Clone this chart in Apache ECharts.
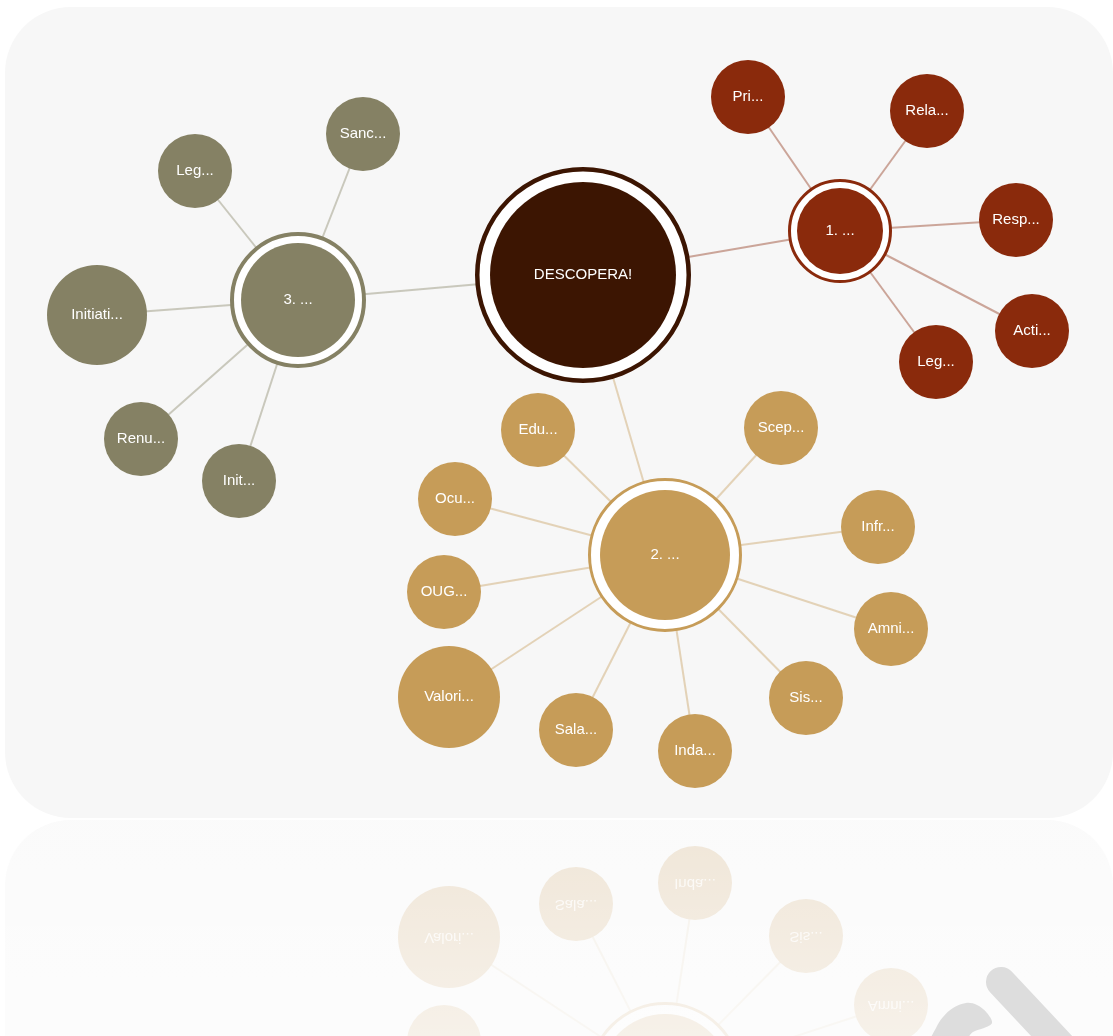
<!DOCTYPE html>
<html><head><meta charset="utf-8">
<script src="https://cdn.jsdelivr.net/npm/echarts@6/dist/echarts.min.js"></script>
<style>html,body{margin:0;padding:0;background:#fff}#c{width:1113px;height:1036px}</style>
</head><body><div id="c"></div>
<script>
// ---- data ----
const groupColors = { root: '#3c1502', g1: '#8a2a0c', g2: '#c69c58', g3: '#858164' };
const nodeLabels = ['DESCOPERA!', '1. ...', '2. ...', '3. ...',
  'Pri...', 'Rela...', 'Resp...', 'Acti...', 'Leg...',
  'Edu...', 'Scep...', 'Infr...', 'Amni...', 'Sis...', 'Inda...', 'Sala...', 'Valori...', 'OUG...', 'Ocu...',
  'Sanc...', 'Leg...', 'Initiati...', 'Renu...', 'Init...'];
const nodeGroup = ['root', 'g1', 'g2', 'g3',
  'g1', 'g1', 'g1', 'g1', 'g1',
  'g2', 'g2', 'g2', 'g2', 'g2', 'g2', 'g2', 'g2', 'g2', 'g2',
  'g3', 'g3', 'g3', 'g3', 'g3'];
const nodeX = [583, 840, 665, 298,
  748, 927, 1016, 1032, 936,
  538, 781, 878, 891, 806, 695, 576, 449, 444, 455,
  363, 195, 97, 141, 239];
const nodeY = [275, 231, 555, 300,
  97, 111, 220, 331, 362,
  430, 428, 527, 629, 698, 751, 730, 697, 592, 499,
  134, 171, 315, 439, 481];
const nodeRadius = [93, 43, 65, 57,
  37, 37, 37, 37, 37,
  37, 37, 37, 37, 37, 37, 37, 51, 37, 37,
  37, 37, 50, 37, 37];
const hubRingOuter = [108, 52, 77, 68];
const hubRingWidth = [4.5, 3, 3, 4];
const linkSource = [0, 0, 0, 1, 1, 1, 1, 1, 2, 2, 2, 2, 2, 2, 2, 2, 2, 2, 3, 3, 3, 3, 3];
const linkTarget = [1, 2, 3, 4, 5, 6, 7, 8, 9, 10, 11, 12, 13, 14, 15, 16, 17, 18, 19, 20, 21, 22, 23];
const mirrorY = 817;

// ---- style helpers ----
function blend(hex, a, bg) {
  const c = [1, 3, 5].map(k => parseInt(hex.substr(k, 2), 16));
  const m = c.map(v => Math.round(bg - a * (bg - v)));
  return 'rgb(' + m.join(',') + ')';
}

function buildNodes(reflect) {
  const out = [];
  const col = g => reflect ? blend(groupColors[g], 0.24, 250) : groupColors[g];
  hubRingOuter.forEach((r, i) => {
    out.push({
      name: 'ring' + i,
      value: [nodeX[i], reflect ? 2 * mirrorY - nodeY[i] : nodeY[i]],
      symbolSize: 2 * (r - hubRingWidth[i] / 2),
      itemStyle: { color: reflect ? '#fbfbfb' : '#ffffff', borderColor: col(nodeGroup[i]), borderWidth: hubRingWidth[i] },
      label: { show: false }
    });
  });
  nodeLabels.forEach((l, i) => {
    out.push({
      name: 'n' + i,
      value: [nodeX[i], reflect ? 2 * mirrorY - nodeY[i] : nodeY[i]],
      symbolSize: 2 * nodeRadius[i],
      itemStyle: { color: col(nodeGroup[i]) }
    });
  });
  return out;
}
function buildLinks(reflect) {
  return linkSource.map((s, i) => ({
    source: 'n' + s, target: 'n' + linkTarget[i],
    lineStyle: { color: groupColors[nodeGroup[linkTarget[i]]], opacity: reflect ? 0.1 : 0.4 }
  }));
}

const chart = echarts.init(document.getElementById('c'), null, { renderer: 'canvas' });
const W = 1113, H = 1036;
chart.setOption({
  animation: false,
  backgroundColor: '#ffffff',
  grid: { left: 0, right: 0, top: 0, bottom: 0 },
  xAxis: { type: 'value', min: 0, max: W, show: false },
  yAxis: { type: 'value', min: 0, max: H, inverse: true, show: false },
  graphic: [
    { type: 'rect', z: -10, shape: { x: 5, y: 7, width: 1108, height: 811, r: 66 }, style: { fill: '#f7f7f7' } },
    { type: 'rect', z: -10, shape: { x: 5, y: 820, width: 1108, height: 811, r: 66 }, style: { fill: '#fafafa' } },
    { type: 'rect', z: 50, shape: { x: 0, y: 819, width: W, height: H - 819 },
      style: { fill: new echarts.graphic.LinearGradient(0, 0, 0, 1, [
        { offset: 0, color: 'rgba(255,255,255,0.1)' },
        { offset: 1, color: 'rgba(255,255,255,0.5)' }]) } },
    { type: 'polyline', z: 60, shape: { points: [[1001, 982], [1105, 1093]] },
      style: { stroke: '#dddddd', lineWidth: 30, lineCap: 'round', fill: null } },
    { type: 'polygon', z: 60, shape: { smooth: 0.35, points: [[931, 1042], [936, 1028], [943, 1017], [953, 1008], [966, 1003], [977, 1005], [987, 1013], [992, 1023], [984, 1028], [973, 1032], [963, 1042]] },
      style: { fill: '#dddddd' } }
  ],
  series: [
    {
      type: 'graph', coordinateSystem: 'cartesian2d', z: 3,
      symbol: 'circle',
      data: buildNodes(false),
      links: buildLinks(false),
      lineStyle: { width: 2, curveness: 0 },
      label: {
        show: true, position: 'inside', color: '#ffffff', fontSize: 15,
        fontFamily: '"Liberation Sans", Arial, sans-serif',
        formatter: p => p.name.startsWith('n') ? nodeLabels[+p.name.slice(1)] : ''
      },
      emphasis: { disabled: true }
    },
    {
      type: 'graph', coordinateSystem: 'cartesian2d', z: 2,
      symbol: 'circle',
      data: buildNodes(true),
      links: buildLinks(true),
      lineStyle: { width: 2 },
      label: { show: false },
      emphasis: { disabled: true }
    },
    {
      type: 'custom', coordinateSystem: 'cartesian2d', z: 4,
      data: nodeLabels.map((l, i) => [nodeX[i], 2 * mirrorY - nodeY[i]]),
      renderItem: (params, api) => {
        const p = api.coord([api.value(0), api.value(1)]);
        return {
          type: 'text', x: p[0], y: p[1], scaleY: -1,
          style: { text: nodeLabels[params.dataIndex], fill: 'rgba(255,255,255,0.75)', fontSize: 15,
            fontFamily: '"Liberation Sans", Arial, sans-serif', align: 'center', verticalAlign: 'middle' }
        };
      }
    }
  ]
});
</script></body></html>
